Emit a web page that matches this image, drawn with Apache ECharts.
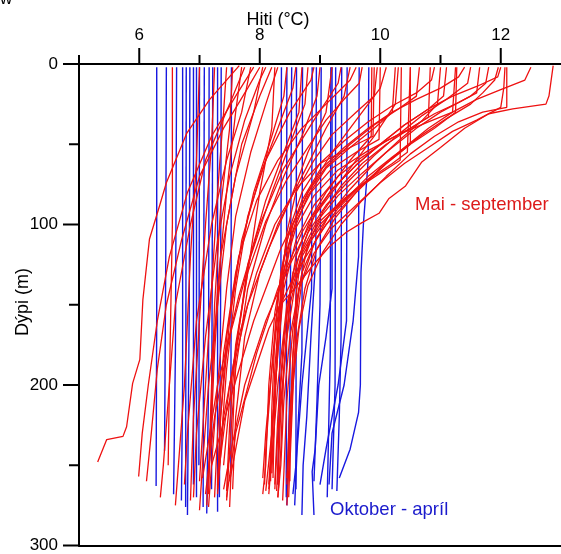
<!DOCTYPE html>
<html>
<head>
<meta charset="utf-8">
<script src="https://cdn.jsdelivr.net/npm/echarts@6/dist/echarts.min.js"></script>
<style>html,body{margin:0;padding:0;background:#fff}#c{width:561px;height:554px}</style>
</head>
<body>
<div id="c"></div>
<script>
// Temperature (°C) ticks and depth (m) ticks
const xMajorTicks = [6, 8, 10, 12];
const xMinorTicks = [5, 7, 9, 11];
const yMajorTicks = [0, 100, 200, 300];
const yMinorTicks = [50, 150, 250];
const xTitle = 'Hiti (°C)';
const yTitle = 'Dýpi (m)';
const summerLabel = 'Mai - september';
const winterLabel = 'Oktober - apríl';

// October - April profiles: [temperature, depth]
const winterProfiles = [
  [[6.29,2],[6.29,150],[6.28,263]],
  [[6.45,2],[6.44,120],[6.42,241]],
  [[6.62,2],[6.6,180],[6.57,268]],
  [[6.72,2],[6.72,200],[6.7,272]],
  [[6.78,2],[6.77,276]],
  [[6.84,2],[6.83,150],[6.8,281]],
  [[6.9,2],[6.9,262]],
  [[6.95,2],[6.95,270]],
  [[7.0,2],[6.99,250]],
  [[7.08,2],[7.06,276]],
  [[7.16,2],[7.15,200],[7.12,280]],
  [[7.22,2],[7.2,265]],
  [[7.3,2],[7.3,279]],
  [[7.36,2],[7.35,150],[7.33,270]],
  [[7.53,2],[7.52,255]],
  [[8.36,2],[8.35,150],[8.3,262]],
  [[8.45,2],[8.44,270]],
  [[8.53,2],[8.5,200],[8.45,275]],
  [[8.61,2],[8.6,265]],
  [[8.71,2],[8.7,180],[8.6,250],[8.55,268]],
  [[8.87,2],[8.86,140],[8.7,200],[8.62,240],[8.58,275]],
  [[8.94,2],[8.93,120],[8.85,170],[8.78,220],[8.72,250],[8.7,281]],
  [[9.02,2],[9.0,150],[8.95,210],[8.9,260]],
  [[9.18,2],[9.17,180],[9.12,270]],
  [[9.2,2],[9.2,140],[9.1,170],[8.98,200],[8.92,240],[8.87,254],[8.9,281]],
  [[9.26,2],[9.25,200],[9.2,265]],
  [[9.36,2],[9.35,170],[9.32,220],[9.28,266]],
  [[9.45,2],[9.44,160],[9.3,200],[9.1,240],[9.0,262]],
  [[9.65,2],[9.64,120],[9.55,160],[9.4,200],[9.2,230],[9.15,262]],
  [[9.81,2],[9.8,60],[9.72,100],[9.68,130],[9.67,200],[9.64,217],[9.5,240],[9.32,258]]
];

// May - September profiles: [temperature, depth]
const summerProfiles = [
  [[7.66,1],[7.17,22],[6.79,43],[6.45,74],[6.34,88],[6.17,109],[6.06,147],[6.01,184],[5.89,199],[5.79,226],[5.73,232],[5.46,234],[5.31,248]],
  [[7.9,2],[7.6,20],[7.2,45],[6.8,80],[6.5,120],[6.3,160],[6.15,200],[6.05,230],[5.99,257]],
  [[8.0,2],[7.8,15],[7.4,40],[7.0,70],[6.7,110],[6.45,150],[6.3,190],[6.2,230],[6.12,260]],
  [[7.75,2],[7.5,25],[7.1,60],[6.85,100],[6.6,150],[6.5,200],[6.4,250],[6.35,270]],
  [[6.55,2],[6.55,100],[6.5,200],[6.48,250]],
  [[7.0,2],[6.95,60],[6.85,120],[6.75,200],[6.6,275]],
  [[7.25,2],[7.2,50],[7.1,100],[7.0,160],[6.9,220],[6.85,272]],
  [[7.45,2],[7.4,30],[7.3,80],[7.2,140],[7.1,200],[7.0,260]],
  [[7.7,2],[7.6,30],[7.45,80],[7.3,140],[7.2,200],[7.15,255]],
  [[8.2,2],[8.0,20],[7.7,50],[7.45,100],[7.3,150],[7.15,200],[7.05,250],[7.0,278]],
  [[8.05,2],[7.9,30],[7.6,70],[7.35,120],[7.25,180],[7.18,240],[7.12,275]],
  [[8.1,2],[8.0,10],[7.75,35],[7.5,70],[7.3,110],[7.1,170],[6.95,230],[6.9,270]],
  [[7.85,2],[7.7,30],[7.45,60],[7.2,100],[6.95,160],[6.8,230],[6.75,262]],
  [[7.55,2],[7.5,40],[7.35,90],[7.25,150],[7.2,210],[7.15,268]],
  [[8.45,2],[8.4,20],[8.2,45],[7.9,80],[7.6,130],[7.4,180],[7.3,230],[7.25,270]],
  [[8.6,2],[8.55,15],[8.3,40],[8.0,70],[7.7,110],[7.5,160],[7.35,220],[7.3,265]],
  [[8.8,2],[8.75,25],[8.5,50],[8.2,80],[7.85,120],[7.5,170],[7.25,220],[7.1,268]],
  [[9.0,2],[8.95,20],[8.7,45],[8.4,70],[8.1,100],[7.8,140],[7.6,190],[7.5,240],[7.45,272]],
  [[9.2,2],[9.1,30],[8.8,55],[8.5,85],[8.15,115],[7.8,150],[7.5,200],[7.3,260]],
  [[9.5,2],[9.4,20],[9.1,40],[8.7,70],[8.3,100],[8.0,130],[7.75,170],[7.6,220],[7.55,265]],
  [[9.86,2],[9.85,45],[9.5,60],[9.1,80],[8.7,105],[8.3,140],[7.95,180],[7.6,230],[7.45,270]],
  [[10.1,2],[10.0,15],[9.6,35],[9.2,55],[8.8,80],[8.35,115],[7.9,160],[7.5,210],[7.2,250]],
  [[10.3,2],[10.25,25],[9.9,45],[9.4,70],[8.9,95],[8.5,125],[8.1,160],[7.75,200],[7.5,245],[7.4,265]],
  [[8.3,2],[8.1,25],[7.85,55],[7.6,95],[7.45,140],[7.3,200],[7.2,250],[7.15,276]],
  [[8.9,2],[8.85,10],[8.5,30],[8.1,60],[7.8,95],[7.6,140],[7.45,190],[7.35,240],[7.3,262]],
  [[9.35,2],[9.3,12],[8.9,35],[8.4,65],[8.0,100],[7.65,145],[7.3,200],[7.05,258]],
  [[10.5,2],[10.5,50],[10.1,62],[9.6,80],[9.1,100],[8.6,130],[8.15,165],[7.75,210],[7.5,260]],
  [[8.7,2],[8.65,30],[8.4,55],[8.1,85],[7.8,125],[7.6,180],[7.55,230],[7.5,276]],
  [[8.25,2],[8.2,40],[8.0,80],[7.8,130],[7.55,190],[7.4,250]],
  [[9.6,2],[9.5,10],[9.1,25],[8.7,40],[8.3,60],[7.95,85],[7.65,120],[7.45,170],[7.35,220],[7.3,262]],
  [[12.87,1],[12.8,20],[12.75,25],[12.2,28],[11.8,31],[11.4,40],[11.0,52],[10.69,61],[10.42,76],[10.14,84],[9.98,93],[9.69,99],[9.43,105],[9.15,114],[8.87,126],[8.6,139],[8.32,151],[8.2,190],[8.1,230],[8.05,258]],
  [[12.07,2],[12.05,15],[12.0,27],[11.6,35],[11.2,42],[10.8,52],[10.4,62],[10.0,74],[9.6,88],[9.2,102],[8.9,118],[8.65,140],[8.5,170],[8.4,210],[8.35,250],[8.3,270]],
  [[11.96,2],[11.9,10],[11.7,18],[11.5,25],[11.1,34],[10.7,44],[10.2,58],[9.8,70],[9.4,85],[9.0,100],[8.7,120],[8.5,150],[8.4,190],[8.3,230],[8.25,265]],
  [[11.8,2],[11.75,12],[11.5,20],[11.0,30],[10.6,40],[10.1,55],[9.7,68],[9.3,82],[8.95,98],[8.65,120],[8.45,150],[8.3,200],[8.2,245],[8.15,268]],
  [[11.5,2],[11.45,12],[11.1,22],[10.7,32],[10.3,44],[9.9,57],[9.5,72],[9.1,88],[8.8,105],[8.55,130],[8.4,170],[8.3,220],[8.25,262]],
  [[11.27,2],[11.25,30],[10.9,40],[10.5,50],[10.1,62],[9.7,75],[9.3,90],[8.95,108],[8.7,130],[8.55,165],[8.45,210],[8.4,255],[8.38,272]],
  [[11.1,2],[11.05,20],[10.8,28],[10.4,38],[10.0,50],[9.6,63],[9.2,78],[8.85,96],[8.6,120],[8.45,155],[8.35,200],[8.3,250],[8.28,266]],
  [[10.83,2],[10.8,33],[10.5,40],[10.1,48],[9.7,58],[9.3,70],[8.9,88],[8.6,110],[8.4,140],[8.3,180],[8.2,230],[8.15,262]],
  [[10.5,2],[10.45,55],[10.2,62],[9.8,72],[9.4,84],[9.0,98],[8.7,118],[8.5,145],[8.4,190],[8.35,240],[8.3,270]],
  [[10.25,2],[10.2,30],[9.9,40],[9.5,52],[9.1,65],[8.8,82],[8.55,105],[8.4,135],[8.3,180],[8.2,230],[8.1,266]],
  [[9.95,2],[9.9,20],[9.6,30],[9.2,44],[8.9,60],[8.6,80],[8.45,105],[8.35,140],[8.25,190],[8.2,240],[8.15,265]],
  [[12.0,2],[11.95,8],[11.6,14],[11.2,20],[10.8,28],[10.4,38],[10.0,50],[9.6,63],[9.2,78],[8.9,95],[8.7,115],[8.6,145],[8.55,185],[8.5,230],[8.45,262]],
  [[11.65,2],[11.6,18],[11.3,24],[10.9,31],[10.5,40],[10.1,50],[9.7,62],[9.35,76],[9.05,92],[8.8,112],[8.65,140],[8.55,180],[8.5,225],[8.5,260]],
  [[10.65,2],[10.6,20],[10.3,28],[9.9,38],[9.5,50],[9.1,64],[8.8,80],[8.55,100],[8.4,130],[8.3,170],[8.25,215],[8.2,255]],
  [[10.0,2],[9.98,47],[9.6,55],[9.2,65],[8.85,80],[8.6,98],[8.4,122],[8.25,155],[8.15,200],[8.1,250],[8.05,268]],
  [[11.4,2],[11.3,8],[11.0,15],[10.6,22],[10.2,30],[9.8,40],[9.4,52],[9.0,66],[8.7,85],[8.45,110],[8.3,145],[8.2,190],[8.1,240],[8.08,262]],
  [[12.1,2],[12.1,27],[11.7,30],[11.3,36],[10.9,45],[10.5,56],[10.1,70],[9.7,85],[9.35,100],[9.05,117],[8.8,138],[8.65,165],[8.55,200],[8.5,240],[8.45,275]],
  [[10.9,2],[10.85,10],[10.6,18],[10.2,26],[9.8,36],[9.4,48],[9.0,62],[8.7,80],[8.5,102],[8.35,130],[8.25,170],[8.2,215],[8.18,260]],
  [[9.7,2],[9.65,12],[9.4,22],[9.1,35],[8.8,52],[8.45,72],[8.1,98],[7.8,130],[7.6,175],[7.5,225],[7.45,266]],
  [[11.0,2],[10.95,25],[10.7,35],[10.3,48],[9.9,62],[9.5,78],[9.15,94],[8.9,112],[8.7,135],[8.6,165],[8.55,205],[8.5,250],[8.48,270]],
  [[12.5,2],[12.4,10],[12.0,16],[11.6,22],[11.2,30],[10.8,40],[10.4,52],[10.0,65],[9.6,80],[9.25,96],[8.95,115],[8.75,140],[8.6,175],[8.5,215],[8.45,258]],
  [[10.35,2],[10.33,60],[10.0,68],[9.6,78],[9.2,92],[8.85,110],[8.6,135],[8.45,170],[8.35,215],[8.3,262]],
  [[9.9,2],[9.88,45],[9.5,52],[9.0,62],[8.6,78],[8.25,100],[7.95,130],[7.65,170],[7.4,220],[7.3,268]],
  [[11.25,2],[11.2,30],[10.8,36],[10.3,44],[9.8,54],[9.3,66],[8.9,82],[8.6,102],[8.4,128],[8.3,165],[8.25,210],[8.22,258]]
];

const FONT = 'Liberation Sans, Arial, sans-serif';
const RED = '#ee1111';
const BLUE = '#1818e0';

const series = [];
winterProfiles.forEach(p => series.push({
  type: 'line', data: p, showSymbol: false, silent: true,
  lineStyle: { color: BLUE, width: 1.4 }
}));
summerProfiles.forEach(p => series.push({
  type: 'line', data: p, showSymbol: false, silent: true,
  lineStyle: { color: RED, width: 1.3 }
}));

const axisLineStyle = { color: '#000', width: 2 };
const textGraphics = [
  { type: 'text', left: 0, top: -9, style: { text: 'w', font: '17px ' + FONT, fill: '#000' } },
  { type: 'text', x: 278, y: 20, style: { text: xTitle, font: '18px ' + FONT, fill: '#000', align: 'center', verticalAlign: 'middle' } },
  { type: 'text', x: 23, y: 302, rotation: Math.PI / 2, style: { text: yTitle, font: '18px ' + FONT, fill: '#000', align: 'center', verticalAlign: 'middle' } },
  { type: 'text', x: 415, y: 205, style: { text: summerLabel, font: '18.5px ' + FONT, fill: '#dd1a1a', verticalAlign: 'middle' } },
  { type: 'text', x: 330, y: 510, style: { text: winterLabel, font: '18.5px ' + FONT, fill: '#1a1acc', verticalAlign: 'middle' } }
];

const chart = echarts.init(document.getElementById('c'), null, { renderer: 'canvas' });
chart.setOption({
  animation: false,
  backgroundColor: '#fff',
  grid: { left: 79, right: 0, top: 64, bottom: 7 },
  xAxis: [
    { type: 'value', position: 'top', min: 5, max: 13,
      axisLine: { show: true, onZero: false, lineStyle: axisLineStyle },
      axisTick: { show: false },
      axisLabel: { show: true, customValues: xMajorTicks, fontSize: 17, margin: 20, color: '#000', fontFamily: FONT },
      splitLine: { show: false } },
    { type: 'value', position: 'bottom', min: 5, max: 13,
      axisLine: { show: true, onZero: false, lineStyle: axisLineStyle },
      axisTick: { show: false }, axisLabel: { show: false }, splitLine: { show: false } }
  ],
  yAxis: [
    { type: 'value', inverse: true, min: 0, max: 300, position: 'left',
      axisLine: { show: true, onZero: false, lineStyle: axisLineStyle },
      axisTick: { show: false },
      axisLabel: { show: true, customValues: yMajorTicks, fontSize: 17, margin: 21, color: '#000', fontFamily: FONT },
      splitLine: { show: false } }
  ],
  graphic: textGraphics,
  series: series
});

// Tick marks placed through the axis scales
const yTop = chart.convertToPixel({ yAxisIndex: 0 }, 0);
const xLeft = chart.convertToPixel({ xAxisIndex: 0 }, 5);
const tickGraphics = [];
function xTick(v, len) {
  const px = chart.convertToPixel({ xAxisIndex: 0 }, v);
  tickGraphics.push({ type: 'line', silent: true, z: 100, shape: { x1: px, y1: yTop, x2: px, y2: yTop - len }, style: { stroke: '#000', lineWidth: 2 } });
}
function yTick(v, len) {
  const py = chart.convertToPixel({ yAxisIndex: 0 }, v);
  tickGraphics.push({ type: 'line', silent: true, z: 100, shape: { x1: xLeft, y1: py, x2: xLeft - len, y2: py }, style: { stroke: '#000', lineWidth: 2 } });
}
xMajorTicks.forEach(v => xTick(v, 16));
xMinorTicks.forEach(v => xTick(v, 9));
yMajorTicks.forEach(v => yTick(v, 16));
yMinorTicks.forEach(v => yTick(v, 10));
chart.setOption({ graphic: textGraphics.concat(tickGraphics) });
</script>
</body>
</html>
